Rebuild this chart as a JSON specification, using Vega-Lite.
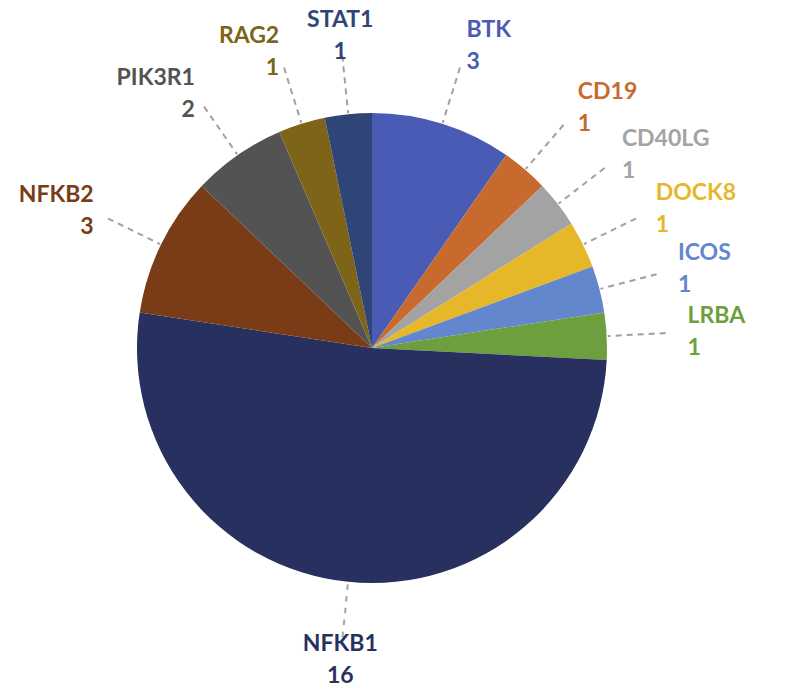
{
  "$schema": "https://vega.github.io/schema/vega-lite/v6.json",
  "autosize": {"type": "none"},
  "width": 744,
  "height": 682,
  "padding": {"left": 0, "top": 7, "right": 44, "bottom": 0},
  "background": "white",
  "config": {"view": {"stroke": null}},
  "data": {
    "values": [
      {"idx": 1, "gene": "BTK", "count": 3},
      {"idx": 2, "gene": "CD19", "count": 1},
      {"idx": 3, "gene": "CD40LG", "count": 1},
      {"idx": 4, "gene": "DOCK8", "count": 1},
      {"idx": 5, "gene": "ICOS", "count": 1},
      {"idx": 6, "gene": "LRBA", "count": 1},
      {"idx": 7, "gene": "NFKB1", "count": 16},
      {"idx": 8, "gene": "NFKB2", "count": 3},
      {"idx": 9, "gene": "PIK3R1", "count": 2},
      {"idx": 10, "gene": "RAG2", "count": 1},
      {"idx": 11, "gene": "STAT1", "count": 1}
    ]
  },
  "transform": [{"calculate": "datum.gene + '\\n' + datum.count", "as": "label"}],
  "encoding": {
    "theta": {"field": "count", "type": "quantitative", "stack": true},
    "order": {"field": "idx", "type": "quantitative"},
    "color": {
      "field": "gene",
      "type": "nominal",
      "legend": null,
      "scale": {
        "domain": ["BTK", "CD19", "CD40LG", "DOCK8", "ICOS", "LRBA", "NFKB1", "NFKB2", "PIK3R1", "RAG2", "STAT1"],
        "range": ["#4a5bb5", "#c8692e", "#a3a3a3", "#e6b829", "#6387cc", "#6e9f3e", "#283060", "#7a3b17", "#535353", "#7d6418", "#2f4578"]
      }
    }
  },
  "layer": [
    {
      "mark": {"type": "arc", "outerRadius": 235, "strokeWidth": 0}
    },
    {
      "mark": {"type": "arc", "padAngle": 3, "fill": "white", "fillOpacity": 0, "stroke": "#a0a0a0", "strokeWidth": 2, "strokeDash": [6, 5]},
      "encoding": {
        "color": {"value": null},
        "radius": {"value": 236},
        "radius2": {"value": 294},
        "strokeOpacity": {"condition": {"test": "datum.gene === 'NFKB1'", "value": 0}, "value": 1}
      }
    },
    {
      "mark": {"type": "text", "radius": 264, "angle": 95.8, "align": "center", "baseline": "middle", "font": "DejaVu Sans", "fontWeight": "bold", "fontSize": 14},
      "encoding": {
        "color": {"value": "#a0a0a0"},
        "text": {"condition": {"test": "datum.gene === 'NFKB1'", "value": "– – – – –"}, "value": ""}
      }
    },
    {
      "mark": {"type": "text", "radius": 316, "dy": -16, "align": "left", "baseline": "middle", "font": "Lato", "fontWeight": "bold", "fontSize": 23, "lineBreak": "\n", "lineHeight": 32},
      "encoding": {"text": {"condition": {"test": "indexof(['BTK','CD19','CD40LG','DOCK8','ICOS','LRBA'], datum.gene) >= 0", "field": "label"}, "value": ""}}
    },
    {
      "mark": {"type": "text", "radius": 310, "dy": -16, "align": "right", "baseline": "middle", "font": "Lato", "fontWeight": "bold", "fontSize": 23, "lineBreak": "\n", "lineHeight": 32},
      "encoding": {"text": {"condition": {"test": "indexof(['NFKB2','PIK3R1','RAG2'], datum.gene) >= 0", "field": "label"}, "value": ""}}
    },
    {
      "mark": {"type": "text", "radius": 314, "dy": -16, "align": "center", "baseline": "middle", "font": "Lato", "fontWeight": "bold", "fontSize": 23, "lineBreak": "\n", "lineHeight": 32},
      "encoding": {"text": {"condition": {"test": "indexof(['STAT1','NFKB1'], datum.gene) >= 0", "field": "label"}, "value": ""}}
    }
  ]
}
